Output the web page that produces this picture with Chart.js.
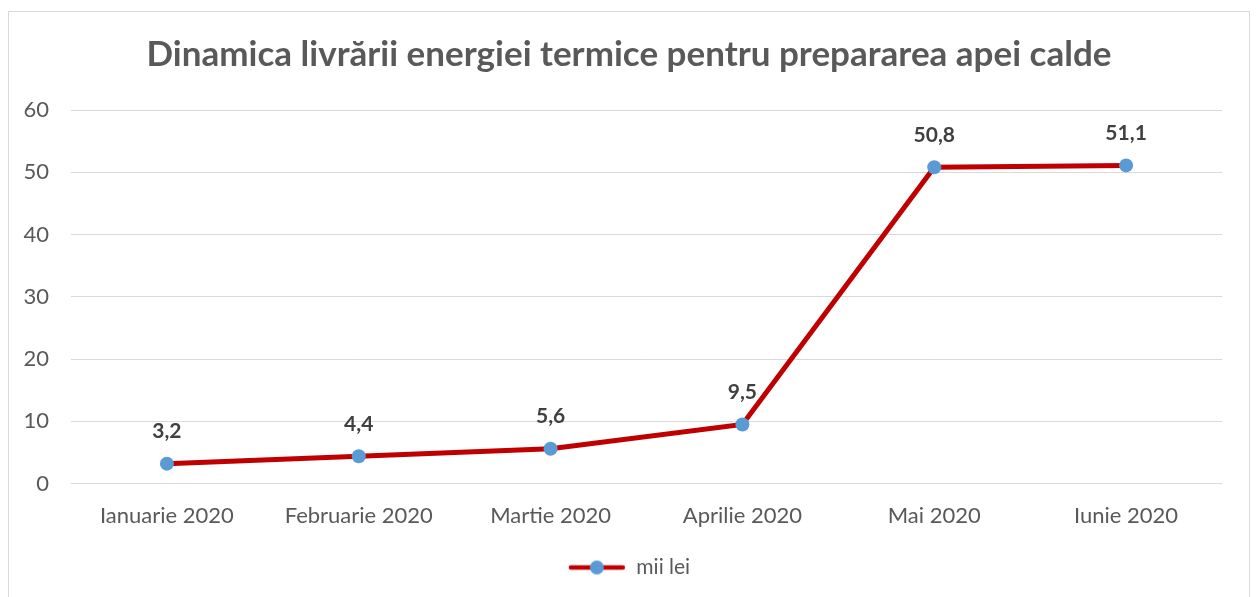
<!DOCTYPE html>
<html>
<head>
<meta charset="utf-8">
<script src="https://cdn.jsdelivr.net/npm/chart.js@4"></script>
<style>
  body { margin: 0; background: #fff; }
  #wrap {
    position: absolute; left: 8px; top: 11px;
    width: 1240px; height: 600px;
    border: 1px solid #d9d9d9;
  }
</style>
</head>
<body>
<div id="wrap"><canvas id="chart" width="1240" height="586"></canvas></div>
<script>
const months = ['Ianuarie 2020', 'Februarie 2020', 'Martie 2020', 'Aprilie 2020', 'Mai 2020', 'Iunie 2020'];
const miiLei = [3.2, 4.4, 5.6, 9.5, 50.8, 51.1];
const yTicks = [0, 10, 20, 30, 40, 50, 60];

const FONT = 'Lato, "Open Sans", sans-serif';
const RED = '#C00000';
const BLUE = '#5B9BD5';

// legend marker: red line with blue dot
const marker = document.createElement('canvas');
marker.width = 58; marker.height = 16;
(() => {
    const c = marker.getContext('2d');
    c.strokeStyle = RED; c.lineWidth = 4.5; c.lineCap = 'round';
    c.beginPath(); c.moveTo(3, 8); c.lineTo(55, 8); c.stroke();
    c.fillStyle = BLUE;
    c.beginPath(); c.arc(29, 8, 7, 0, Math.PI * 2); c.fill();
})();

// value labels above the points
const valueLabels = {
    id: 'valueLabels',
    afterDatasetsDraw(chart) {
        const ctx = chart.ctx;
        const meta = chart.getDatasetMeta(0);
        ctx.save();
        ctx.font = 'bold 21px ' + FONT;
        ctx.fillStyle = '#404040';
        ctx.textAlign = 'center';
        ctx.textBaseline = 'middle';
        meta.data.forEach((pt, i) => {
            const v = chart.data.datasets[0].data[i];
            ctx.fillText(v.toFixed(1).replace('.', ','), pt.x, pt.y - 32);
        });
        ctx.restore();
    }
};

const ctx = document.getElementById('chart').getContext('2d');
new Chart(ctx, {
    type: 'line',
    data: {
        labels: months,
        datasets: [{
            label: 'mii lei',
            data: miiLei,
            borderColor: RED,
            borderWidth: 5,
            tension: 0,
            pointRadius: 7,
            pointBackgroundColor: BLUE,
            pointBorderColor: BLUE,
            pointBorderWidth: 0
        }]
    },
    options: {
        responsive: false,
        animation: false,
        layout: { padding: { left: 0, right: 0, top: 0, bottom: 10 } },
        scales: {
            x: {
                offset: true,
                afterFit(scale) { scale.height += 7; },
                grid: { display: false },
                border: { display: false },
                ticks: { color: '#595959', font: { family: FONT, size: 22 }, padding: 11 }
            },
            y: {
                min: 0, max: 60,
                afterFit(scale) { scale.width = 62; },
                afterBuildTicks(scale) { scale.ticks = yTicks.map(v => ({ value: v })); },
                grid: { color: '#d9d9d9', lineWidth: 1, drawTicks: false },
                border: { display: false },
                ticks: { color: '#595959', font: { family: FONT, size: 22 }, padding: 22 }
            },
            // empty right-hand spacer so the plot ends where the original does
            spacer: {
                type: 'linear',
                position: 'right',
                afterFit(scale) { scale.width = 27; },
                grid: { display: false },
                border: { display: false },
                ticks: { display: false }
            }
        },
        plugins: {
            title: {
                display: true,
                text: 'Dinamica livrării energiei termice pentru prepararea apei calde',
                color: '#595959',
                font: { family: FONT, size: 35, weight: 'bold' },
                padding: { top: 22, bottom: 34 }
            },
            legend: {
                position: 'bottom',
                labels: {
                    color: '#595959',
                    font: { family: FONT, size: 21 },
                    usePointStyle: true,
                    pointStyleWidth: 58,
                    generateLabels(chart) {
                        return [{
                            text: 'mii lei',
                            pointStyle: marker,
                            fontColor: '#595959',
                            hidden: false,
                            datasetIndex: 0
                        }];
                    }
                }
            },
            tooltip: { enabled: false }
        }
    },
    plugins: [valueLabels]
});
</script>
</body>
</html>
